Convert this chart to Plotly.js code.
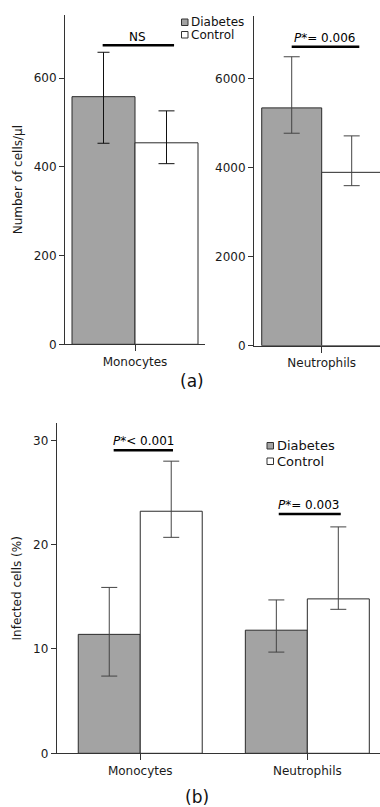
<!DOCTYPE html>
<html>
<head>
<meta charset="utf-8">
<script src="https://cdn.plot.ly/plotly-3.0.1.min.js"></script>
<style>
  html, body { margin: 0; padding: 0; background: #fff; }
  #chart { width: 380px; height: 807px; }
</style>
</head>
<body>
<div id="chart"></div>
<script>
// Groups and cell types
const groupNames = ['Diabetes', 'Control'];
const monoCategory = ['Monocytes'];
const neutCategory = ['Neutrophils'];
const cellTypes = ['Monocytes', 'Neutrophils'];

// (a) absolute counts, cells/μl: mean, upper and lower error limits
const monoDiabetes = [558];
const monoDiabetesHi = [658];
const monoDiabetesLo = [453];
const monoControl = [454];
const monoControlHi = [526];
const monoControlLo = [407];

const neutDiabetes = [5350];
const neutDiabetesHi = [6500];
const neutDiabetesLo = [4780];
const neutControl = [3900];
const neutControlHi = [4720];
const neutControlLo = [3600];

// (b) infected cells, %: per cell type
const infDiabetes = [11.4, 11.8];
const infDiabetesHi = [15.9, 14.7];
const infDiabetesLo = [7.4, 9.7];
const infControl = [23.2, 14.8];
const infControlHi = [28.0, 21.7];
const infControlLo = [20.7, 13.8];

// Tick labels
const countTicks = [0, 200, 400, 600];
const neutTicks = [0, 2000, 4000, 6000];
const pctTicks = [0, 10, 20, 30];

// Significance labels
const pMono = 'NS';
const pNeut = '<i>P</i>*= 0.006';
const pInfMono = '<i>P</i>*&lt; 0.001';
const pInfNeut = '<i>P</i>*= 0.003';

const W = 380, H = 807;
const px = x => x / W;          // pixel -> paper x
const py = y => 1 - y / H;      // pixel -> paper y

const FONT = 'DejaVu Sans, Verdana, sans-serif';
const GREY = '#a3a3a3';
const EDGE = '#2a2a2a';

function upper(m, hi) { return hi.map((v, i) => v - m[i]); }
function lower(m, lo) { return m.map((v, i) => v - lo[i]); }

function barPair(x, dMean, dHi, dLo, cMean, cHi, cLo, w, xa, ya, errColor, capD, capC) {
  return [
    {
      type: 'bar', name: groupNames[0], x: x, y: dMean, xaxis: xa, yaxis: ya,
      width: w, offset: -w, showlegend: false,
      marker: { color: GREY, line: { color: EDGE, width: 1 } },
      error_y: { type: 'data', symmetric: false, array: upper(dMean, dHi),
                 arrayminus: lower(dMean, dLo), color: errColor, thickness: 1, width: capD }
    },
    {
      type: 'bar', name: groupNames[1], x: x, y: cMean, xaxis: xa, yaxis: ya,
      width: w, offset: 0, showlegend: false,
      marker: { color: '#ffffff', line: { color: EDGE, width: 1 } },
      error_y: { type: 'data', symmetric: false, array: upper(cMean, cHi),
                 arrayminus: lower(cMean, cLo), color: errColor, thickness: 1, width: capC }
    }
  ];
}

const data = [].concat(
  barPair(monoCategory, monoDiabetes, monoDiabetesHi, monoDiabetesLo,
          monoControl, monoControlHi, monoControlLo, 0.45, 'x', 'y', '#111', 6, 8),
  barPair(neutCategory, neutDiabetes, neutDiabetesHi, neutDiabetesLo,
          neutControl, neutControlHi, neutControlLo, 0.443, 'x2', 'y2', '#444', 8, 8),
  barPair(cellTypes, infDiabetes, infDiabetesHi, infDiabetesLo,
          infControl, infControlHi, infControlLo, 0.371, 'x3', 'y3', '#444', 8, 8)
);

const tickFont = { family: FONT, size: 12, color: '#1a1a1a' };

function xAxis(domain, range, anchor) {
  return {
    domain: domain, range: range, anchor: anchor, type: 'category',
    showline: true, linecolor: '#333', linewidth: 1,
    ticks: 'outside', ticklen: 6, tickcolor: '#333',
    showgrid: false, zeroline: false, tickfont: tickFont, fixedrange: true
  };
}
function yAxis(domain, range, anchor, tickvals, title) {
  return {
    domain: domain, range: range, anchor: anchor,
    showline: true, linecolor: '#333', linewidth: 1,
    ticks: 'outside', ticklen: 5, tickcolor: '#333',
    tickvals: tickvals, ticktext: tickvals.map(String),
    showgrid: false, zeroline: false, tickfont: tickFont, fixedrange: true,
    title: title ? { text: title, font: { family: FONT, size: 12, color: '#1a1a1a' }, standoff: 8 } : undefined
  };
}

// Significance bars (line under each label)
function sigLine(xref, yref, x0, x1, y) {
  return { type: 'line', xref: xref, yref: yref, x0: x0, x1: x1, y0: y, y1: y,
           line: { color: '#000', width: 2.5 } };
}
function sigText(xref, yref, x, y, text) {
  return { xref: xref, yref: yref, x: x, y: y, text: text, showarrow: false,
           xanchor: 'center', yanchor: 'middle',
           font: { family: FONT, size: 12, color: '#000' } };
}

// Hand-drawn legend keys
function keyBox(x0, y0, size, fill) {
  return { type: 'rect', xref: 'paper', yref: 'paper',
           x0: px(x0), x1: px(x0 + size), y0: py(y0 + size), y1: py(y0),
           fillcolor: fill, line: { color: '#333', width: 1 } };
}
function keyText(x, y, text, size) {
  return { xref: 'paper', yref: 'paper', x: px(x), y: py(y), text: text,
           showarrow: false, xanchor: 'left', yanchor: 'middle',
           font: { family: FONT, size: size, color: '#111' } };
}

const layout = {
  width: W, height: H,
  margin: { l: 0, r: 0, t: 0, b: 0 },
  paper_bgcolor: '#ffffff', plot_bgcolor: 'rgba(0,0,0,0)',
  barmode: 'overlay', showlegend: false,
  font: { family: FONT, size: 12, color: '#1a1a1a' },

  xaxis: xAxis([px(65), px(205)], [-0.5, 0.5], 'y'),
  yaxis: yAxis([py(344.3), py(15)], [0, 742], 'x', countTicks, 'Number of cells/μl'),

  xaxis2: xAxis([px(254), 1], [-0.5, 0.4306], 'y2'),
  yaxis2: yAxis([py(345.7), py(16)], [0, 7417], 'x2', neutTicks, null),

  xaxis3: xAxis([px(56.7), 1], [-0.5, 1.435], 'y3'),
  yaxis3: yAxis([py(753.3), py(423.3)], [0, 31.63], 'x3', pctTicks, 'Infected cells (%)'),

  shapes: [
    sigLine('x', 'y', -0.231, 0.279, 674),
    sigLine('x2', 'y2', -0.2216, 0.2777, 6724),
    sigLine('x3', 'y3', -0.159, 0.196, 29.05),
    sigLine('x3', 'y3', 0.829, 1.2, 22.94),
    keyBox(181.5, 19, 6.5, GREY),
    keyBox(181.5, 31.5, 6.5, '#ffffff'),
    keyBox(267, 442.5, 6.5, GREY),
    keyBox(267, 458, 6.5, '#ffffff')
  ],

  annotations: [
    sigText('x', 'y', 0.02, 692, pMono),
    sigText('x2', 'y2', 0.024, 6919, pNeut),
    sigText('x3', 'y3', 0.02, 29.97, pInfMono),
    sigText('x3', 'y3', 1.007, 23.8, pInfNeut),
    keyText(188.5, 22, groupNames[0], 12),
    keyText(188.5, 35, groupNames[1], 12),
    keyText(274.5, 445.7, groupNames[0], 13),
    keyText(274.5, 461.3, groupNames[1], 13),
    { xref: 'paper', yref: 'paper', x: px(192), y: py(381), text: '(a)', showarrow: false,
      xanchor: 'center', yanchor: 'middle', font: { family: FONT, size: 17, color: '#111' } },
    { xref: 'paper', yref: 'paper', x: px(197), y: py(797), text: '(b)', showarrow: false,
      xanchor: 'center', yanchor: 'middle', font: { family: FONT, size: 17, color: '#111' } }
  ]
};

Plotly.newPlot('chart', data, layout, { staticPlot: true, displayModeBar: false });
</script>
</body>
</html>
